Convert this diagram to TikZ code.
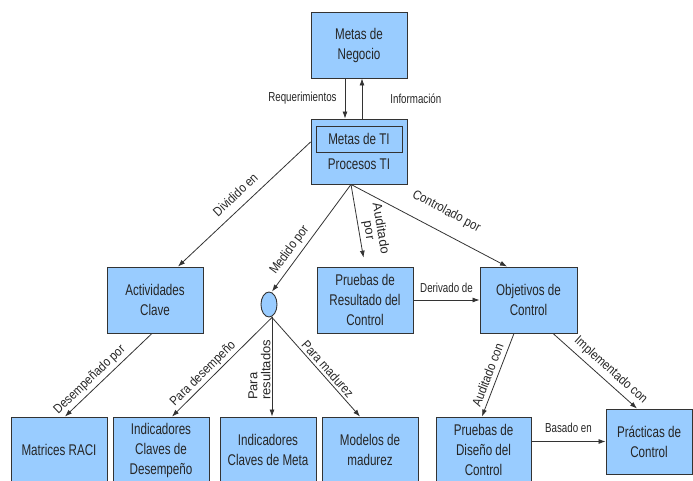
\documentclass[tikz,border=0pt]{standalone}
\usepackage{fontspec}
\setmainfont{Liberation Sans}[FakeStretch=0.75]
\newfontfamily\slopefont{Liberation Sans}[FakeStretch=0.87]
\newfontfamily\uprightfont{Liberation Sans}
\usetikzlibrary{arrows.meta,shapes.geometric}
\definecolor{boxblue}{HTML}{99CCFF}
\definecolor{linegray}{HTML}{333333}
\tikzset{
    box/.style={draw=linegray, fill=boxblue, line width=0.9pt,
        minimum width=96pt, minimum height=66pt, inner sep=0pt,
        align=center, text=black!85, font=\fontsize{15.5}{20}\selectfont},
    arr/.style={draw=linegray, line width=0.8pt,
        -{Latex[length=7pt,width=5pt]}},
    lbl/.style={inner sep=1pt, text=black!85,
        font=\fontsize{13}{13}\selectfont},
    slbl/.style={lbl, sloped, font=\slopefont\fontsize{13}{13}\selectfont},
    vlbl/.style={lbl, align=left, font=\uprightfont\fontsize{13}{12}\selectfont},
}
\begin{document}
\begin{tikzpicture}[x=1pt,y=-1pt]
    \useasboundingbox (0,0) rectangle (693,481);
    \clip (0,0) rectangle (693,481);
    %% Top: business goals and IT goals
    \node[box] (neg) at (359,45) {Metas de\\Negocio};
    \node[box, minimum height=65pt] (ti) at (359,151.5) {};
    \node[draw=linegray, line width=0.9pt, minimum width=86pt,
        minimum height=26pt, inner sep=0pt, text=black!85,
        font=\fontsize{15.5}{20}\selectfont] (tig) at (359,139) {Metas de TI};
    \node[text=black!85, font=\fontsize{15.5}{20}\selectfont]
        (tip) at (359,164) {Procesos TI};
    \coordinate (tio) at ([xshift=-8pt]ti.south);
    %% Middle row
    \node[box] (ac) at (155,300) {Actividades\\Clave};
    \node[ellipse, draw=linegray, fill=boxblue, line width=0.9pt,
        minimum width=16pt, minimum height=25pt, inner sep=0pt]
        (cir) at (269,304.5) {};
    \coordinate (cirb) at ([xshift=3pt]cir.south);
    \node[box] (rc) at (365,300) {Pruebas de\\Resultado del\\Control};
    \node[box, minimum width=97pt] (ob) at (528.5,300) {Objetivos de\\Control};
    %% Bottom row
    \node[box] (mr) at (59,450) {Matrices RACI};
    \node[box] (kd) at (161,450) {Indicadores\\Claves de\\Desempeño};
    \node[box] (km) at (268,450) {Indicadores\\Claves de Meta};
    \node[box] (mm) at (370,450) {Modelos de\\madurez};
    \node[box, minimum width=95pt] (pd) at (483.5,450) {Pruebas de\\Diseño del\\Control};
    \node[box, minimum width=86pt, minimum height=65pt]
        (pc) at (649,441.5) {Prácticas de\\Control};
    %% Connectors from the top
    \draw[arr] ([xshift=-14pt]neg.south) -- ([xshift=-14pt]ti.north)
        node[lbl, midway, left=7pt] {Requerimientos};
    \draw[arr] ([xshift=3pt]ti.north) -- ([xshift=3pt]neg.south)
        node[lbl, midway, right=27pt] {Información};
    \draw[arr] ([yshift=9.5pt]ti.west) -- ([xshift=23pt]ac.north)
        node[slbl, midway, above=7pt] {Dividido en};
    \draw[arr] (tio) -- ([xshift=3pt]cir.north)
        node[slbl, pos=0.67, above=3pt] {Medido por};
    \draw[arr, shorten >=9pt] (tio) -- (rc.north)
        node[vlbl, sloped, align=center, pos=0.58, above=2pt] {Auditado\\por};
    \draw[arr] (tio) -- ([xshift=-21.5pt]ob.north)
        node[slbl, pos=0.55, above=13pt] {Controlado por};
    \draw[arr] (rc.east) -- (ob.west)
        node[lbl, midway, above=6pt] {Derivado de};
    %% Connectors to the bottom row
    \draw[arr] ([xshift=-3pt]ac.south) -- ([xshift=6pt]mr.north)
        node[slbl, pos=0.64, above=2pt] {Desempeñado por};
    \draw[arr] (cirb) -- ([xshift=11pt]kd.north)
        node[slbl, pos=0.63, above=1pt] {Para desempeño};
    \draw[arr] (cirb) -- (cirb |- km.north)
        node[vlbl, rotate=90, pos=0.53, above=0pt,
            font=\uprightfont\fontsize{13}{13}\selectfont] {Para\\resultados};
    \draw[arr] (cirb) -- ([xshift=-10pt]mm.north)
        node[slbl, pos=0.57, above=1.5pt] {Para madurez};
    \draw[arr] ([xshift=-14.5pt]ob.south) -- ([xshift=-1.5pt]pd.north)
        node[slbl, pos=0.54, above=3.5pt] {Auditado con};
    \draw[arr] ([xshift=24.5pt]ob.south) -- ([xshift=-12pt]pc.north)
        node[slbl, pos=0.6, above=3.5pt] {Implementado con};
    \draw[arr] (pd.east |- pc.west) -- (pc.west)
        node[lbl, midway, above=7pt] {Basado en};
\end{tikzpicture}
\end{document}
